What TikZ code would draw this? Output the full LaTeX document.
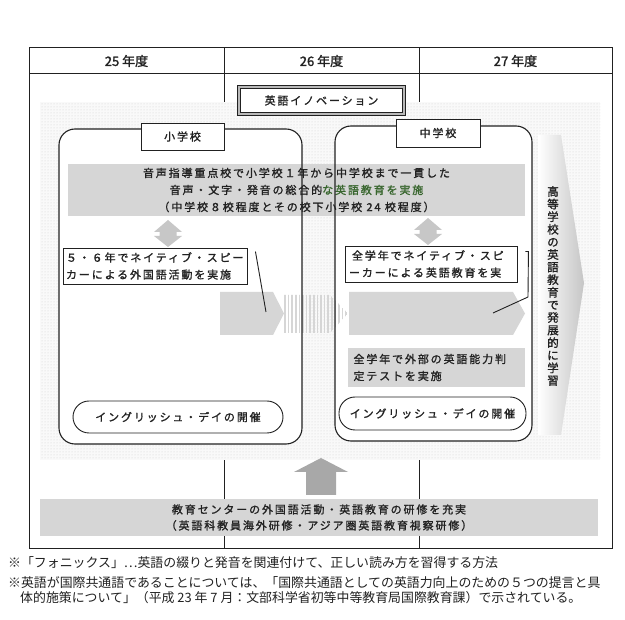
\documentclass[tikz,border=0pt]{standalone}
\usepackage{fontspec}
\setmainfont{Noto Sans CJK JP}
\newfontfamily\jp[LetterSpace=17, FakeBold=1.3]{Noto Sans CJK JP}
\newfontfamily\jph[FakeBold=1.6]{Noto Sans CJK JP}
\newfontfamily\jpn{Noto Sans CJK JP}
\usetikzlibrary{patterns}
\definecolor{bandgray}{gray}{0.84}
\definecolor{arrgray}{gray}{0.78}
\definecolor{darkarr}{gray}{0.66}
\definecolor{txtgreen}{rgb}{0.22,0.40,0.18}
\definecolor{ink}{gray}{0.13}
\begin{document}
\begin{tikzpicture}[x=1pt,y=-1pt,
  txt/.style={font={\jp\fontsize{11}{17}\selectfont}, text=ink},
  hdr/.style={font={\jph\fontsize{13}{15}\selectfont}, text=ink},
  fn/.style={font={\jpn\fontsize{12.9}{15}\selectfont}, text=ink, anchor=west, inner sep=0},
  frame/.style={draw=ink, line width=1pt},
  box/.style={draw=ink, line width=0.9pt, fill=white, inner sep=0},
  band/.style={fill=bandgray, draw=none, inner sep=0},
  pill/.style={draw=ink, line width=0.9pt, fill=white, rounded corners=16pt, inner sep=0},
  titlebox/.style={draw=ink, line width=0.7pt, double=gray!55, double distance=2pt, fill=white, inner sep=0}
]
\useasboundingbox (0,0) rectangle (625,620);
\fill[white] (0,0) rectangle (625,620);

% table frame
\draw[frame] (29,48) rectangle (612,549);
\draw[frame] (29,74) -- (612,74);
\draw[frame] (224,48) -- (224,549);
\draw[frame] (419,48) -- (419,549);
\node[hdr] (y25) at (126.5,61) {25 年度};
\node[hdr] (y26) at (321.5,61) {26 年度};
\node[hdr] (y27) at (515.5,61) {27 年度};

% dotted background
\fill[gray!5] (40,102) rectangle (600,460);
\path[pattern=dots, pattern color=gray!35] (40,102) rectangle (600,460);

% title
\node[titlebox, minimum width=165pt, minimum height=27pt, txt] (inov) at (321.5,100.5) {英語イノベーション};

% school frames
\fill[white, rounded corners=16pt] (59,129) rectangle (302,444);
\fill[white, rounded corners=16pt] (335,126) rectangle (532,441);

% gradient arrow to high school
\shade[left color=white, right color=gray!45] (538,135) -- (561,135) -- (584,283) -- (561,435) -- (538,435) -- cycle;
\node[txt, font={\jp\fontsize{11.5}{12.6}\selectfont}, align=center, inner sep=0] (hs) at (553,286)
  {高\\等\\学\\校\\の\\英\\語\\教\\育\\で\\発\\展\\的\\に\\学\\習};

% top band
\node[band, minimum width=457pt, minimum height=52pt, align=center, txt] (band1) at (296.5,190)
  {音声指導重点校で小学校１年から中学校まで一貫した\\
   音声・文字・発音の総合的{\color{txtgreen}な英語教育を実施}\\
   （中学校８校程度とその校下小学校 24 校程度）};

% double arrows
\fill[arrgray] (168,220) -- (182,232) -- (176.5,232) -- (176.5,236) -- (182,236) -- (168,247)
  -- (154,236) -- (159.5,236) -- (159.5,232) -- (154,232) -- cycle;
\fill[arrgray] (428,218) -- (442,230) -- (436.5,230) -- (436.5,234) -- (442,234) -- (428,245)
  -- (414,234) -- (419.5,234) -- (419.5,230) -- (414,230) -- cycle;

% boxes
\node[box, minimum width=184pt, minimum height=36pt, txt, align=left, text width=178pt] (el) at (155,266)
  {５・６年でネイティブ・スピー\\カーによる外国語活動を実施};
\node[box, minimum width=172pt, minimum height=36pt, txt, align=left, text width=164pt] (jl) at (431,264)
  {\hspace*{3pt}全学年でネイティブ・スピ\\ーカーによる英語教育を実};

% horizontal gray arrows
\fill[bandgray] (220,292) -- (273,292) -- (284,313.5) -- (273,335) -- (220,335) -- cycle;
\begin{scope}
\clip (284,295) -- (330,295) -- (348,313.5) -- (330,333) -- (284,333) -- cycle;
\foreach \x in {285,288.6,...,348} \draw[line width=1.7pt, bandgray] (\x,290) -- (\x,340);
\end{scope}
\fill[bandgray] (349,292) -- (513,292) -- (525,313.5) -- (513,335) -- (349,335) -- cycle;

% frame borders
\draw[draw=ink, line width=1.1pt, rounded corners=16pt] (59,129) rectangle (302,444);
\draw[draw=ink, line width=1.1pt, rounded corners=16pt] (335,126) rectangle (532,441);
\node[box, minimum width=83pt, minimum height=27pt, txt] (shou) at (182.5,136.5) {小学校};
\node[box, minimum width=84pt, minimum height=28pt, txt] (chuu) at (438,133) {中学校};

% leader lines
\coordinate (la) at (266,312);
\coordinate (lb) at (493,313);
\draw[ink, line width=0.9pt] ([xshift=8pt,yshift=-4pt]el.north east) -- (la);
\draw[ink, line width=0.9pt] ([xshift=8pt,yshift=-6pt]jl.north east) -- ([xshift=11pt,yshift=-6pt]jl.north east) -- (528,297) -- (lb);

% test band
\node[band, minimum width=177pt, minimum height=39pt, txt, align=left, text width=166pt] (test) at (436.5,367.5)
  {全学年で外部の英語能力判\\定テストを実施};

% English day
\node[pill, minimum width=210pt, minimum height=32pt, txt] (ed1) at (178,417) {イングリッシュ・デイの開催};
\node[pill, minimum width=187pt, minimum height=33pt, txt] (ed2) at (432.5,413.5) {イングリッシュ・デイの開催};

% bottom training
\node[band, minimum width=558pt, minimum height=37pt, txt, align=center, font={\jp\fontsize{11}{16}\selectfont}] (train) at (319,517.5)
  {教育センターの外国語活動・英語教育の研修を充実\\（英語科教員海外研修・アジア圏英語教育視察研修）};
\fill[darkarr] (306,495) -- (306,472) -- (294,472) -- (321,458) -- (348,472) -- (336,472) -- (336,495) -- cycle;

% footnotes
\node[fn] (f1) at (8,563) {※「フォニックス」…英語の綴りと発音を関連付けて、正しい読み方を習得する方法};
\node[fn] (f2) at (8,583) {※英語が国際共通語であることについては、「国際共通語としての英語力向上のための５つの提言と具};
\node[fn] (f3) at (20,598) {体的施策について」（平成 23 年 7 月：文部科学省初等中等教育局国際教育課）で示されている。};
\end{tikzpicture}
\end{document}
